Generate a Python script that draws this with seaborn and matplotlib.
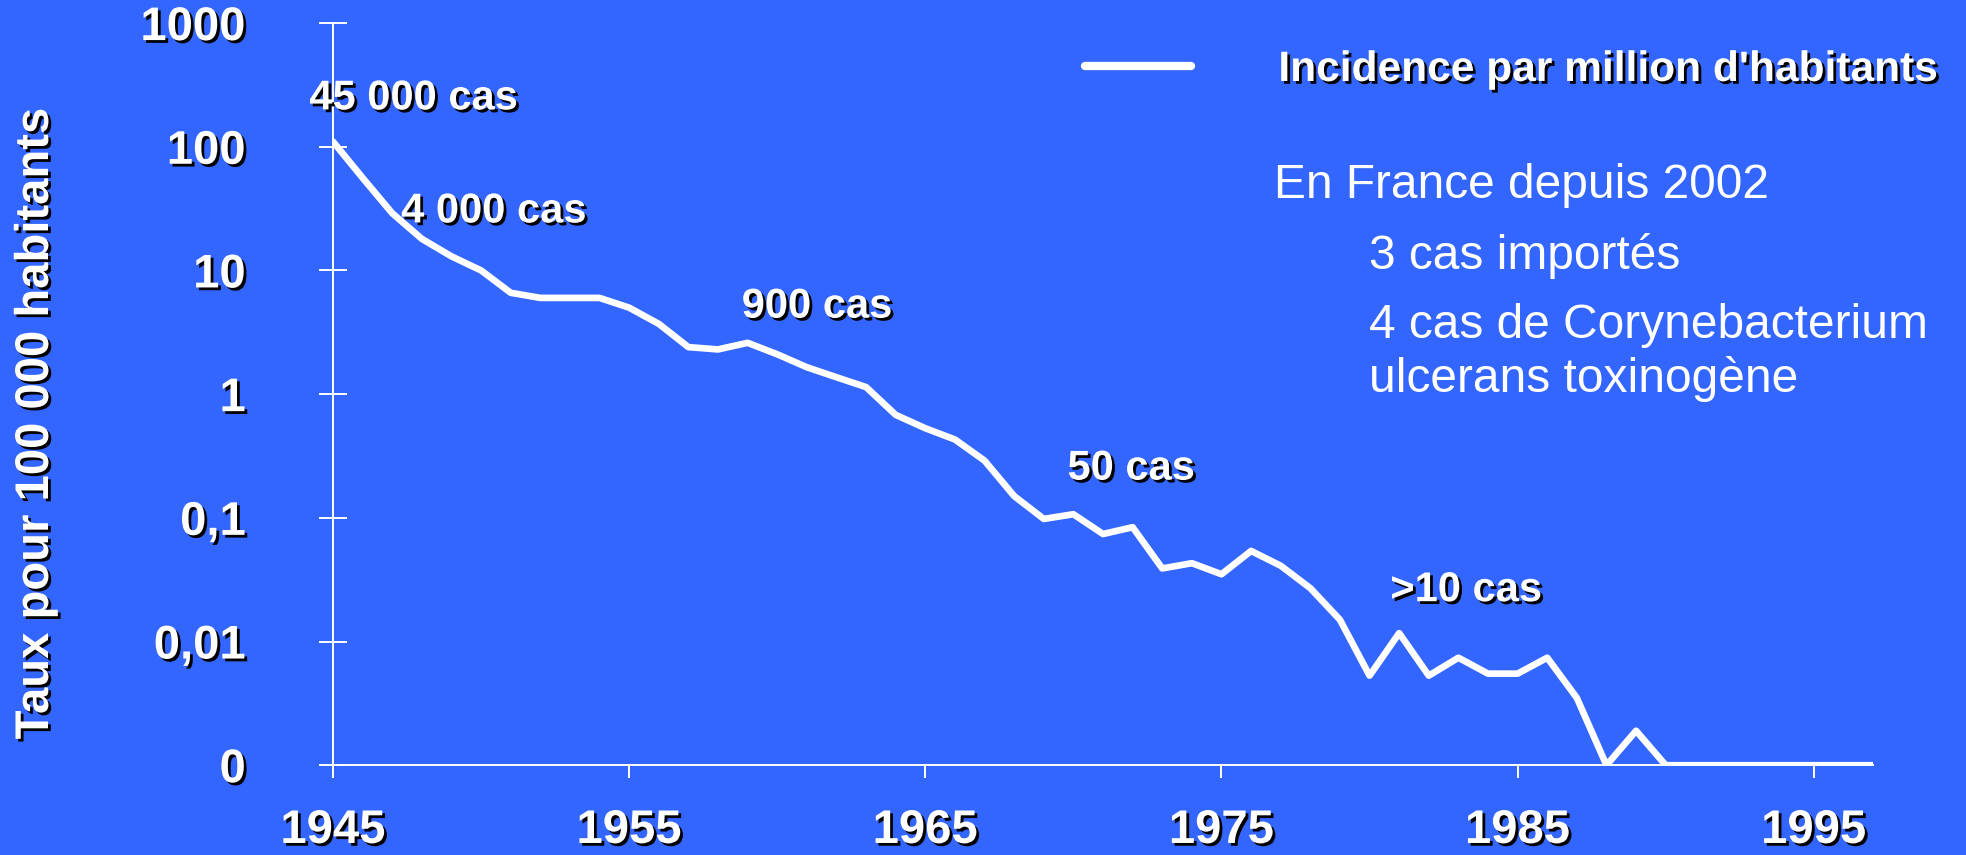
import numpy as np
import pandas as pd
import matplotlib
matplotlib.use("Agg")
import matplotlib.pyplot as plt
import matplotlib.patheffects as pe
import seaborn as sns

years = list(range(1945, 1998))
taux = [110, 56, 29, 18, 13, 10, 6.6, 6.0, 6.0, 6.0,
        5.0, 3.7, 2.4, 2.3, 2.6, 2.1, 1.65, 1.37, 1.14, 0.68,
        0.53, 0.43, 0.29, 0.15, 0.098, 0.107, 0.074, 0.084, 0.039, 0.043,
        0.035, 0.054, 0.041, 0.027, 0.015, 0.0053, 0.0117, 0.0053, 0.0074, 0.0055,
        0.0055, 0.0074, 0.0035, 0.001, 0.0019, 0.001, 0.001, 0.001, 0.001, 0.001,
        0.001, 0.001, 0.001]

ytick_vals = [0.001, 0.01, 0.1, 1, 10, 100, 1000]
ytick_labels = ["0", "0,01", "0,1", "1", "10", "100", "1000"]
xtick_vals = [1945, 1955, 1965, 1975, 1985, 1995]

annot_text = ["45 000 cas", "4 000 cas", "900 cas", "50 cas", ">10 cas"]
annot_year = [1944.2, 1947.3, 1958.8, 1969.8, 1980.7]
annot_val = [246, 30, 5.1, 0.25, 0.026]

info_lines = ["En France depuis 2002", "3 cas importés",
              "4 cas de Corynebacterium", "ulcerans toxinogène"]

df = pd.DataFrame({"annee": years, "taux": taux})

bg = "#3366FF"
sns.set_style("ticks")
plt.rcParams["font.family"] = ["Liberation Sans", "DejaVu Sans"]

shadow = [pe.SimplePatchShadow(offset=(2, -2), shadow_rgbFace="black", alpha=1), pe.Normal()]

fig = plt.figure(figsize=(19.66, 8.55), dpi=100, facecolor=bg)
ax = fig.add_axes([0.1694, 0.105, 0.7833, 0.868])
ax.set_facecolor(bg)

sns.lineplot(data=df, x="annee", y="taux", ax=ax, color="white", linewidth=4.8,
             label="Incidence par million d'habitants")

ax.set_yscale("log")
ax.set_ylim(0.001, 1000)
ax.set_xlim(1945, 1997)
ax.set_yticks(ytick_vals)
ax.set_yticklabels(ytick_labels)
ax.yaxis.set_minor_locator(matplotlib.ticker.NullLocator())
ax.set_xticks(xtick_vals)
ax.set_xticklabels([str(v) for v in xtick_vals])
ax.set_xlabel("")
ax.set_ylabel("")

for s in ["top", "right"]:
    ax.spines[s].set_visible(False)
for s in ["left", "bottom"]:
    ax.spines[s].set_color("white")
    ax.spines[s].set_linewidth(1.4)

ax.tick_params(axis="y", direction="inout", length=19.5, width=1.4, color="white",
               pad=53, labelsize=34, labelcolor="white")
ax.tick_params(axis="x", direction="out", length=9.5, width=1.4, color="white",
               pad=22, labelsize=34, labelcolor="white")
for lab in ax.get_xticklabels() + ax.get_yticklabels():
    lab.set_fontweight("bold")
    lab.set_path_effects(shadow)

fig.text(36 / 1966, 0.505, "Taux pour 100 000 habitants", rotation=90,
         ha="center", va="center", fontsize=34, fontweight="bold", color="white",
         path_effects=shadow)

for t, x, y in zip(annot_text, annot_year, annot_val):
    ax.text(x, y, t, ha="left", va="center", fontsize=30, fontweight="bold",
            color="white", path_effects=shadow)

leg = ax.legend(loc="center left", bbox_to_anchor=(1085 / 1966, 1 - 70 / 855),
                bbox_transform=fig.transFigure, frameon=False, fontsize=30.6,
                handlelength=2.5, handletextpad=2.05, borderpad=0, borderaxespad=0)
for txt in leg.get_texts():
    txt.set_color("white")
    txt.set_fontweight("bold")
    txt.set_path_effects(shadow)
for ln in leg.get_lines():
    ln.set_linewidth(6)

info_x = [1274, 1369, 1369, 1369]
info_y = [186, 256, 325, 379]
for t, x, y in zip(info_lines, info_x, info_y):
    fig.text(x / 1966, 1 - y / 855, t, ha="left", va="center", fontsize=34.5,
             color="white")

plt.savefig("out.png", dpi=100, facecolor=bg)
